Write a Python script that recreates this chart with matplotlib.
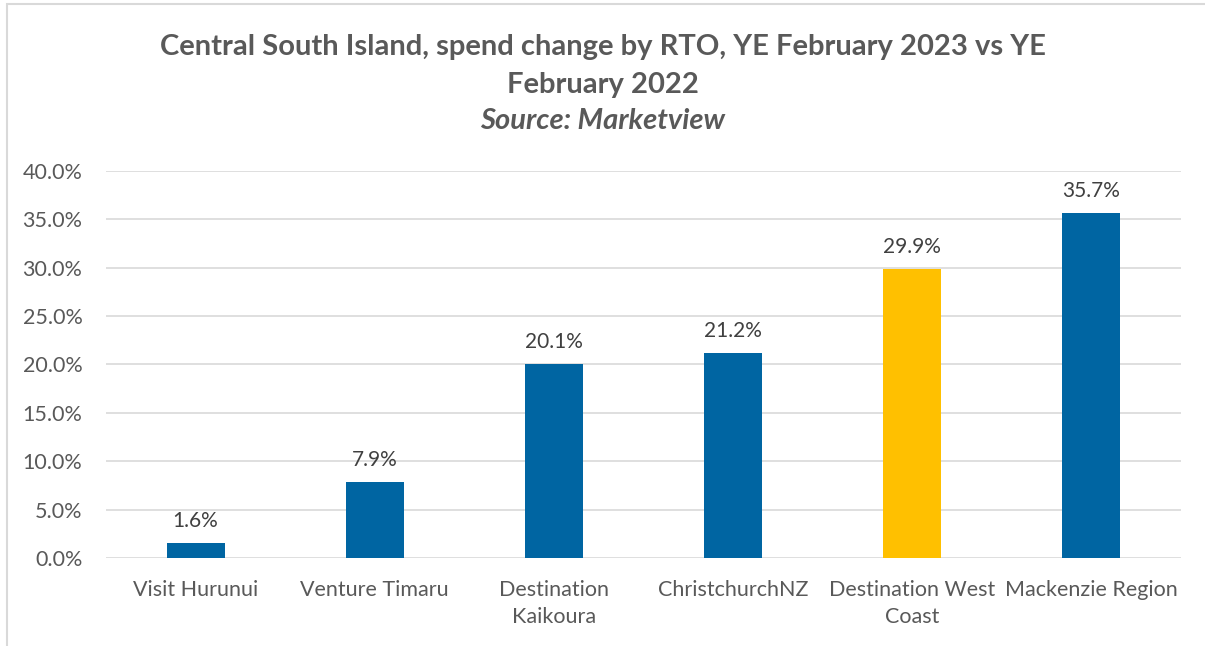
import matplotlib.pyplot as plt
from matplotlib.patches import Rectangle
from matplotlib.ticker import FuncFormatter

# Datos
regiones = ['Visit Hurunui', 'Venture Timaru', 'Destination\nKaikoura', 'ChristchurchNZ',
            'Destination West\nCoast', 'Mackenzie Region']
cambio = [1.6, 7.9, 20.1, 21.2, 29.9, 35.7]
colores = ['#0065A2', '#0065A2', '#0065A2', '#0065A2', '#FFC000', '#0065A2']

plt.rcParams['font.family'] = ['Lato', 'DejaVu Sans']
gris = '#595959'

fig = plt.figure(figsize=(12.05, 6.46), dpi=100)
ax = fig.add_axes([106 / 1205, 1 - 558 / 646, 1075 / 1205, 387 / 646])

x = range(len(regiones))
barras = ax.bar(x, cambio, width=0.324, color=colores, zorder=3)

for barra, v in zip(barras, cambio):
    ax.text(barra.get_x() + barra.get_width() / 2, v + 1.2, f'{v:.1f}%',
            ha='center', va='bottom', fontsize=15, color='#404040')

ax.set_xlim(-0.5, len(regiones) - 0.5)
ax.set_ylim(0, 40)
ax.set_yticks(range(0, 41, 5))
ax.yaxis.set_major_formatter(FuncFormatter(lambda v, p: f'{v:.1f}%'))
ax.set_xticks(list(x))
ax.set_xticklabels(regiones, linespacing=1.45)
ax.tick_params(axis='both', length=0, labelsize=15.5, labelcolor=gris)
ax.tick_params(axis='x', pad=16)
ax.tick_params(axis='y', pad=17)
ax.grid(axis='y', color='#D9D9D9', linewidth=1.2, zorder=0)
for s in ax.spines.values():
    s.set_visible(False)

# Títulos
fig.text(0.5, 1 - 47 / 646, 'Central South Island, spend change by RTO, YE February 2023 vs YE',
         ha='center', va='center', fontsize=21, fontweight='bold', color=gris)
fig.text(0.5, 1 - 85 / 646, 'February 2022', ha='center', va='center',
         fontsize=21, fontweight='bold', color=gris)
fig.text(0.5, 1 - 121 / 646, 'Source: Marketview', ha='center', va='center',
         fontsize=21, fontweight='bold', fontstyle='italic', color=gris)

# Borde del gráfico
fig.patches.append(Rectangle((7 / 1205, -0.1), 1.2, 1 - 4 / 646 + 0.1, transform=fig.transFigure,
                             fill=False, edgecolor='#D9D9D9', linewidth=1.5))

fig.savefig('out.png', dpi=100)
